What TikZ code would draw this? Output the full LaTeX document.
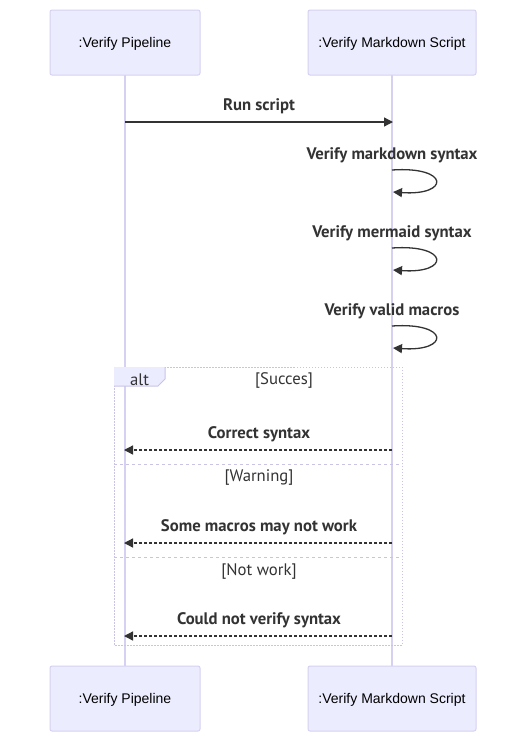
\documentclass[tikz,border=0pt]{standalone}
\usepackage{fontspec}
\setmainfont{Liberation Sans}
\newfontfamily\msgfont{PT Sans}
\usetikzlibrary{arrows.meta}
\definecolor{actfill}{HTML}{ECECFF}
\definecolor{actline}{HTML}{D6D1F2}
\definecolor{txt}{HTML}{333333}
\definecolor{loopline}{HTML}{C9C4E6}
\tikzset{
  actor/.style={draw=actline, fill=actfill, rounded corners=2pt, line width=1pt, minimum width=150pt, minimum height=65pt, inner sep=0pt, text height=13.5pt, text depth=3pt, font=\fontsize{14}{16}\selectfont, text=black},
  lifeline/.style={draw=actline, line width=1.2pt},
  msg/.style={draw=txt, line width=1.3pt, -{Triangle[length=9pt,width=9pt]}},
  reply/.style={msg, dash pattern=on 3pt off 2pt},
  mlabel/.style={font=\msgfont\bfseries\fontsize{16.7}{18}\selectfont, text=txt, inner sep=0pt},
  glabel/.style={font=\msgfont\fontsize{16.7}{18}\selectfont, text=txt, inner sep=0pt},
  frameline/.style={draw=loopline, line width=1pt, dash pattern=on 1.5pt off 1.5pt},
}
\begin{document}
\begin{tikzpicture}[x=1pt,y=-1pt]
\useasboundingbox (0,0) rectangle (528,742);
\fill[white] (0,0) rectangle (528,742);
% lifelines
\coordinate (lt) at (125,75);
\coordinate (lb) at (125,666);
\coordinate (rt) at (392,75);
\coordinate (rb) at (392,666);
\draw[lifeline] (lt) -- (lb);
\draw[lifeline] (rt) -- (rb);
% actors
\node[actor] (a1) at (125,42.5) {:Verify Pipeline};
\node[actor, minimum width=168pt] (a2) at (392,42.5) {:Verify Markdown Script};
\node[actor] (b1) at (125,698.5) {:Verify Pipeline};
\node[actor, minimum width=168pt] (b2) at (392,698.5) {:Verify Markdown Script};
% run script
\coordinate (m1s) at (125,122);
\coordinate (m1e) at (393,122);
\node[mlabel] (l1) at (259,106) {Run script};
\draw[msg] (m1s) -- (m1e);
% self loops
\foreach \y/\t/\n in {170/Verify markdown syntax/s1, 248/Verify mermaid syntax/s2, 326/Verify valid macros/s3}{
  \node[mlabel] (\n) at (392,\y-15) {\t};
  \coordinate (\n a) at (392,\y);
  \coordinate (\n b) at (393,\y+22);
  \draw[msg] (\n a) .. controls (450,\y-4) and (450,\y+26) .. (\n b);
}
% alt frame
\coordinate (f1) at (114,367);
\coordinate (f2) at (402,645);
\draw[frameline] (f1) rectangle (f2);
\fill[actfill] (114,367) -- (165,367) -- (165,379) -- (158,386) -- (114,386) -- cycle;
\draw[loopline, line width=1pt] (165,367) -- (165,379) -- (158,386) -- (114,386);
\node[glabel] (alt) at (139.5,379.5) {alt};
\node[glabel] (g1) at (284,380) {[Succes]};
\coordinate (d1a) at (114,464);
\coordinate (d1b) at (402,464);
\coordinate (d2a) at (114,557);
\coordinate (d2b) at (402,557);
\draw[frameline, dash pattern=on 3pt off 3pt] (d1a) -- (d1b);
\draw[frameline, dash pattern=on 3pt off 3pt] (d2a) -- (d2b);
\node[glabel] (g2) at (259,478) {[Warning]};
\node[glabel] (g3) at (259,571) {[Not work]};
% replies
\foreach \y/\t/\n in {450/Correct syntax/r1, 543/Some macros may not work/r2, 636/Could not verify syntax/r3}{
  \node[mlabel] (\n) at (259,\y-16) {\t};
  \coordinate (\n s) at (392,\y);
  \coordinate (\n e) at (124,\y);
  \draw[reply] (\n s) -- (\n e);
}
\end{tikzpicture}
\end{document}
